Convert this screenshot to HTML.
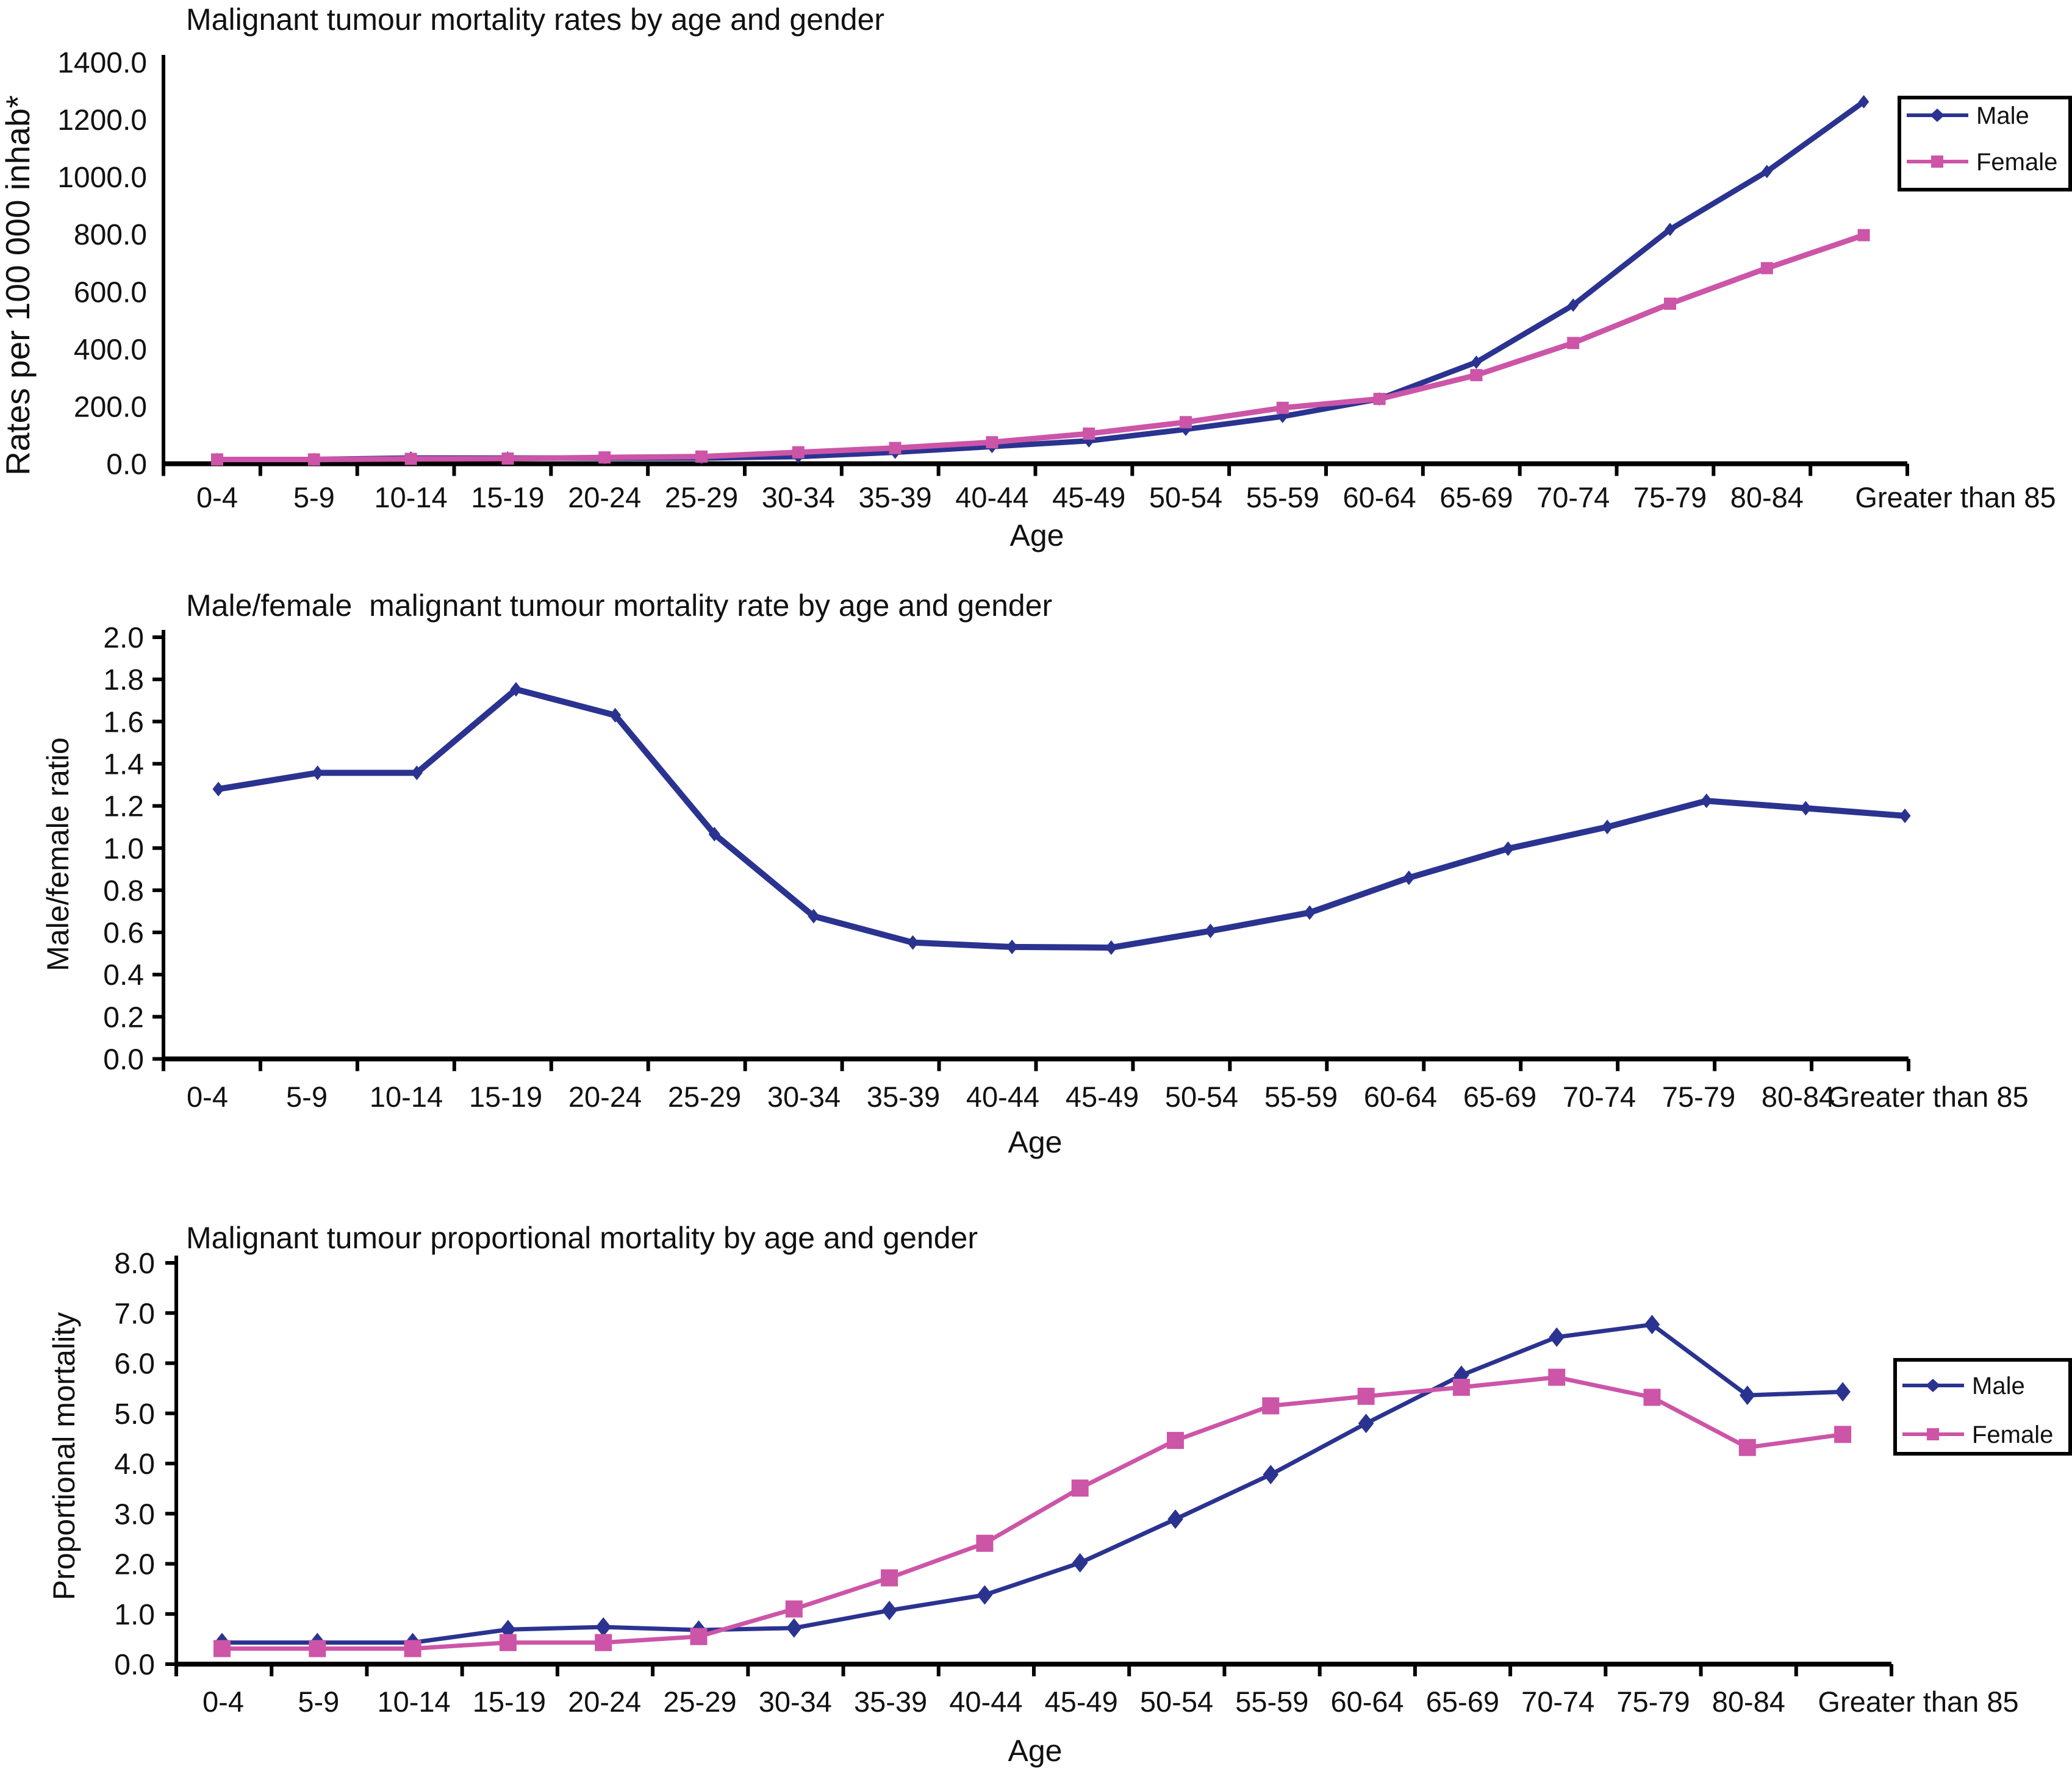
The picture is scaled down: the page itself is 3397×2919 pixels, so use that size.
<!DOCTYPE html>
<html><head><meta charset="utf-8"><style>
html,body{margin:0;padding:0;background:#fff;}
svg text{font-family:"Liberation Sans",sans-serif;fill:#111;}
</style></head><body>
<svg id="fig" width="3397" height="2914" viewBox="0 0 3397 2914" xmlns="http://www.w3.org/2000/svg"></svg>
<script>
const categories = ["0-4","5-9","10-14","15-19","20-24","25-29","30-34","35-39","40-44","45-49","50-54","55-59","60-64","65-69","70-74","75-79","80-84","Greater than 85"];
const rateMale = [15,15,20,20,20,20,25,40,60,80,120,165,226,354,553,817,1019,1262];
const rateFemale = [15,15,17,18,22,25,40,55,75,105,145,195,226,309,421,558,682,797];
const rateTicks = ["0.0","200.0","400.0","600.0","800.0","1000.0","1200.0","1400.0"];
const ratioValues = [1.28,1.357,1.357,1.753,1.63,1.066,0.677,0.552,0.531,0.528,0.607,0.694,0.859,0.997,1.10,1.224,1.189,1.153];
const ratioTicks = ["0.0","0.2","0.4","0.6","0.8","1.0","1.2","1.4","1.6","1.8","2.0"];
const propMale = [0.43,0.43,0.43,0.69,0.74,0.68,0.72,1.07,1.38,2.02,2.89,3.78,4.80,5.76,6.52,6.77,5.36,5.43];
const propFemale = [0.31,0.31,0.31,0.43,0.43,0.55,1.10,1.72,2.41,3.51,4.46,5.15,5.34,5.52,5.72,5.32,4.32,4.58];
const propTicks = ["0.0","1.0","2.0","3.0","4.0","5.0","6.0","7.0","8.0"];

const NS="http://www.w3.org/2000/svg";
const svg=document.getElementById('fig');
const NAVY="#2b3390", PINK="#cc55a8";
function el(tag,attrs,parent){const e=document.createElementNS(NS,tag);for(const k in attrs)e.setAttribute(k,attrs[k]);(parent||svg).appendChild(e);return e;}
function txt(s,attrs,parent){const t=el('text',attrs,parent);t.textContent=s;return t;}

function chart(c){
  const g=el('g',{});
  
  
  const yMax=parseFloat(c.ticks[c.ticks.length-1]);
  const ys=v=>c.y0-(v/yMax)*(c.y0-c.yTop);
  const xs=i=>c.px0+i*c.pstep;
  const t=txt(c.title,{x:c.titleX,y:c.titleY,'font-size':50},g);
  
  
  const yt=txt(c.ytitle,{x:0,y:0,'font-size':c.ytSize,'text-anchor':'middle',transform:`translate(${c.ytX},${c.ytY}) rotate(-90)`},g);
  
  
  const ya=el('line',{x1:c.ax,y1:c.yTop-12,x2:c.ax,y2:c.y0+20,stroke:'#000','stroke-width':6},g);
  
  
  const xa=el('line',{x1:c.ax,y1:c.y0,x2:c.axEnd,y2:c.y0,stroke:'#000','stroke-width':8},g);
  
  
  c.ticks.forEach(s=>{
    const v=parseFloat(s), y=ys(v);
    if(c.yTickMarks) el('line',{x1:c.ax-18,y1:y,x2:c.ax,y2:y,stroke:'#000','stroke-width':6},g);
    const l=txt(s,{x:c.ylx,y:y+17,'font-size':48,'text-anchor':'end'},g);
    
    
  });
  const step=(c.axEnd-c.ax)/categories.length;
  for(let i=1;i<=categories.length;i++){
    const x=c.ax+i*step;
    el('line',{x1:x,y1:c.y0,x2:x,y2:c.y0+20,stroke:'#000','stroke-width':6},g);
  }
  categories.forEach((s,i)=>{
    let x=c.lx0+i*c.lstep;
    if(i===categories.length-1) x=c.lastLabelX;
    const l=txt(s,{x:x,y:c.labelY+17,'font-size':47,'text-anchor':'middle'},g);
    
    
  });
  const at=txt('Age',{x:c.ageX,y:c.ageY+18,'font-size':50,'text-anchor':'middle'},g);
  
  
  c.series.forEach(s=>{
    const pts=s.values.map((v,i)=>xs(i)+','+ys(v)).join(' ');
    const pl=el('polyline',{points:pts,fill:'none',stroke:s.color,'stroke-width':c.lw,'stroke-linejoin':'round'},g);
    
    
    s.values.forEach((v,i)=>{
      const x=xs(i),y=ys(v);let m;
      if(s.marker==='diamond'){
        const r=c.mk;
        m=el('polygon',{points:`${x},${y-r} ${x+r*0.8},${y} ${x},${y+r} ${x-r*0.8},${y}`,fill:s.color},g);
      } else {
        const r=c.sq;
        m=el('rect',{x:x-r,y:y-r,width:2*r,height:2*r,fill:s.color},g);
      }
      
      
    });
  });
  if(c.legend){
    const L=c.legend;
    const lg=el('g',{},g);
    
    
    el('rect',{x:L.x,y:L.y,width:L.w,height:L.h,fill:'#fff',stroke:'#000','stroke-width':6},lg);
    c.series.forEach((s,k)=>{
      const yy=L.rows[k];
      const e=el('g',{},lg);
      
      
      el('line',{x1:L.x+12,y1:yy,x2:L.x+113,y2:yy,stroke:s.color,'stroke-width':6},e);
      const mx=L.x+62;
      if(s.marker==='diamond') el('polygon',{points:`${mx},${yy-11} ${mx+12},${yy} ${mx},${yy+11} ${mx-12},${yy}`,fill:s.color},e);
      else el('rect',{x:mx-10,y:yy-10,width:20,height:20,fill:s.color},e);
      txt(s.label,{x:L.x+126,y:yy+14,'font-size':40},e);
    });
  }
}

chart({name:'rates-chart',title:'Malignant tumour mortality rates by age and gender',titleX:305,titleY:49,
  ytitle:'Rates per 100 000 inhab*',ytSize:55,ytX:48,ytY:468,ax:268,axEnd:3127,yTop:102,y0:760.5,ticks:rateTicks,ylx:241,yTickMarks:false,
  px0:356,pstep:158.8,lx0:356,lstep:158.8,lastLabelX:3206,labelY:815,ageX:1700,ageY:877,mk:11,sq:10,lw:9,
  series:[{name:'male',label:'Male',values:rateMale,color:NAVY,marker:'diamond'},{name:'female',label:'Female',values:rateFemale,color:PINK,marker:'square'}],
  legend:{x:3114,y:160,w:280,h:151,rows:[189,265]}});

chart({name:'ratio-chart',title:'Male/female\u00a0 malignant tumour mortality rate by age and gender',titleX:305,titleY:1010,
  ytitle:'Male/female ratio',ytSize:50,ytX:112,ytY:1401,ax:268,axEnd:3129,yTop:1045,y0:1736.5,ticks:ratioTicks,ylx:236,yTickMarks:true,
  px0:358,pstep:162.65,lx0:340,lstep:163,lastLabelX:3161,labelY:1798,ageX:1697,ageY:1872,mk:12,sq:10,lw:10,
  series:[{name:'ratio',label:'Ratio',values:ratioValues,color:NAVY,marker:'diamond'}]});

chart({name:'proportional-chart',title:'Malignant tumour proportional mortality by age and gender',titleX:305,titleY:2047,
  ytitle:'Proportional mortality',ytSize:50,ytX:122,ytY:2388,ax:289,axEnd:3101,yTop:2071,y0:2729,ticks:propTicks,ylx:254,yTickMarks:true,
  px0:364,pstep:156.3,lx0:366,lstep:156.3,lastLabelX:3145,labelY:2790,ageX:1697,ageY:2870,mk:16,sq:14,lw:7,
  series:[{name:'male',label:'Male',values:propMale,color:NAVY,marker:'diamond'},{name:'female',label:'Female',values:propFemale,color:PINK,marker:'square'}],
  legend:{x:3107,y:2230,w:287,h:154,rows:[2272,2352]}});
</script>
</body></html>
